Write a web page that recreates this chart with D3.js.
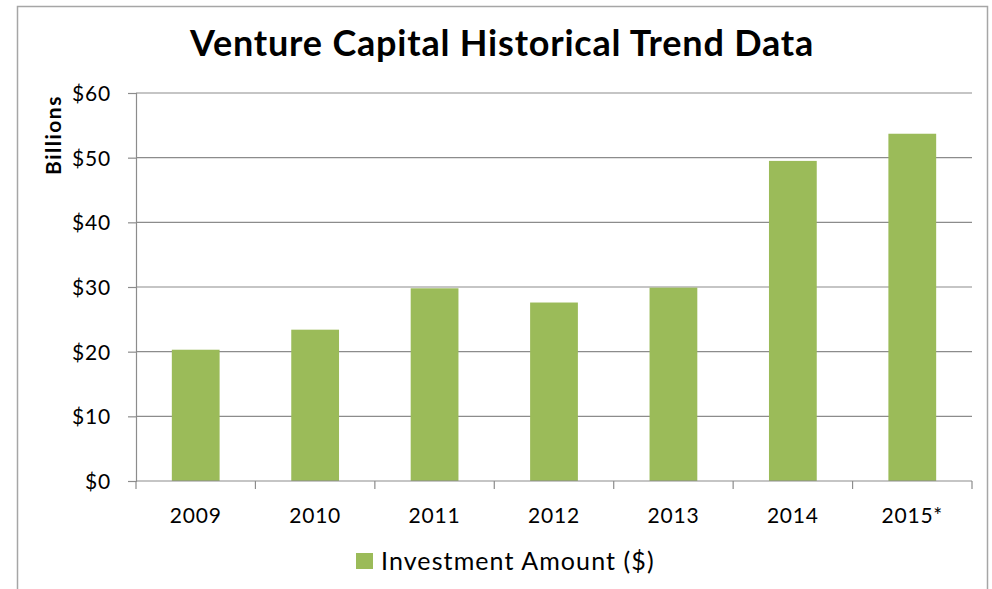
<!DOCTYPE html>
<meta charset="utf-8">
<style>
    body { margin: 0; background: #fff; }
    .title { font-family: Lato, "Open Sans", sans-serif; font-size: 36px; font-weight: bold; text-anchor: middle; fill: #000; letter-spacing: 0.8px; }
    .ylabel { font-family: Lato, sans-serif; font-size: 21px; font-weight: bold; text-anchor: middle; letter-spacing: 1.5px; }
    .tick text { font-family: Lato, sans-serif; font-size: 21px; fill: #000; letter-spacing: 0.8px; }
    .xlab { font-family: Lato, sans-serif; font-size: 21px; fill: #000; letter-spacing: 0.8px; }
    .grid line { stroke: #8c8c8c; stroke-width: 1.2px; }
    .legend text { font-family: Lato, sans-serif; font-size: 25px; letter-spacing: 1.1px; }
</style>
<body>
<script src="https://d3js.org/d3.v7.min.js"></script>
<script>
    // data
    var years = ["2009", "2010", "2011", "2012", "2013", "2014", "2015*"];
    var amounts = [20.3, 23.4, 29.8, 27.6, 29.9, 49.5, 53.7];
    var yTicks = [0, 10, 20, 30, 40, 50, 60];

    var W = 992, H = 589;
    var margin = { top: 93, right: 20, bottom: 108, left: 136 },
        width = 972 - margin.left,
        height = 481 - margin.top;

    var svg = d3.select("body").append("svg").attr("width", W).attr("height", H);

    // chart border
    svg.append("rect").attr("x", 17.5).attr("y", 6.5).attr("width", 970).attr("height", 600)
        .attr("fill", "none").attr("stroke", "#a6a6a6").attr("stroke-width", 1.5);

    svg.append("text").attr("class", "title").attr("x", 502).attr("y", 56).text("Venture Capital Historical Trend Data");

    var g = svg.append("g").attr("transform", "translate(" + margin.left + "," + margin.top + ")");

    var x = d3.scaleBand().domain(years).range([0, width]).paddingInner(0.6).paddingOuter(0.3);
    var xBounds = d3.scaleLinear().domain([0, years.length]).range([0, width]);
    var y = d3.scaleLinear().domain([0, 60]).range([height, 0]);

    // gridlines
    g.append("g").attr("class", "grid")
        .selectAll("line").data(yTicks.slice(1)).enter().append("line")
        .attr("x1", 0).attr("x2", width)
        .attr("y1", function(d) { return y(d); }).attr("y2", function(d) { return y(d); });

    // y axis
    var yAxis = g.append("g").call(d3.axisLeft(y).tickValues(yTicks).tickSize(8).tickPadding(17)
        .tickFormat(function(d) { return "$" + d; }));
    yAxis.select(".domain").attr("stroke", "#8c8c8c").attr("stroke-width", 1.2);
    yAxis.selectAll(".tick line").attr("stroke", "#8c8c8c").attr("stroke-width", 1.2);
    yAxis.selectAll(".tick text").attr("dy", "0.35em");

    // bars
    g.selectAll(".bar").data(amounts).enter().append("rect")
        .attr("class", "bar")
        .attr("x", function(d, i) { return x(years[i]); })
        .attr("width", x.bandwidth())
        .attr("y", function(d) { return y(d); })
        .attr("height", function(d) { return height - y(d); })
        .attr("fill", "#9bbb59");

    // x axis baseline + boundary ticks
    var xg = g.append("g").attr("transform", "translate(0," + height + ")");
    xg.append("line").attr("x1", 0).attr("x2", width).attr("stroke", "#8c8c8c").attr("stroke-width", 1.2);
    xg.selectAll(".bt").data(d3.range(years.length + 1)).enter().append("line")
        .attr("x1", function(d) { return xBounds(d); }).attr("x2", function(d) { return xBounds(d); })
        .attr("y1", 0).attr("y2", 8).attr("stroke", "#8c8c8c").attr("stroke-width", 1.2);
    xg.selectAll(".xl").data(years).enter().append("text")
        .attr("class", "xlab")
        .attr("x", function(d) { return x(d) + x.bandwidth() / 2; })
        .attr("y", 42)
        .attr("text-anchor", "middle")
        .text(function(d) { return d; });

    // y label
    svg.append("text").attr("class", "ylabel")
        .attr("transform", "translate(61,135) rotate(-90)").text("Billions");

    // legend
    var lg = svg.append("g").attr("class", "legend");
    lg.append("rect").attr("x", 356).attr("y", 553).attr("width", 17).attr("height", 16).attr("fill", "#9bbb59");
    lg.append("text").attr("x", 381).attr("y", 570).text("Investment Amount ($)");
</script>
</body>
